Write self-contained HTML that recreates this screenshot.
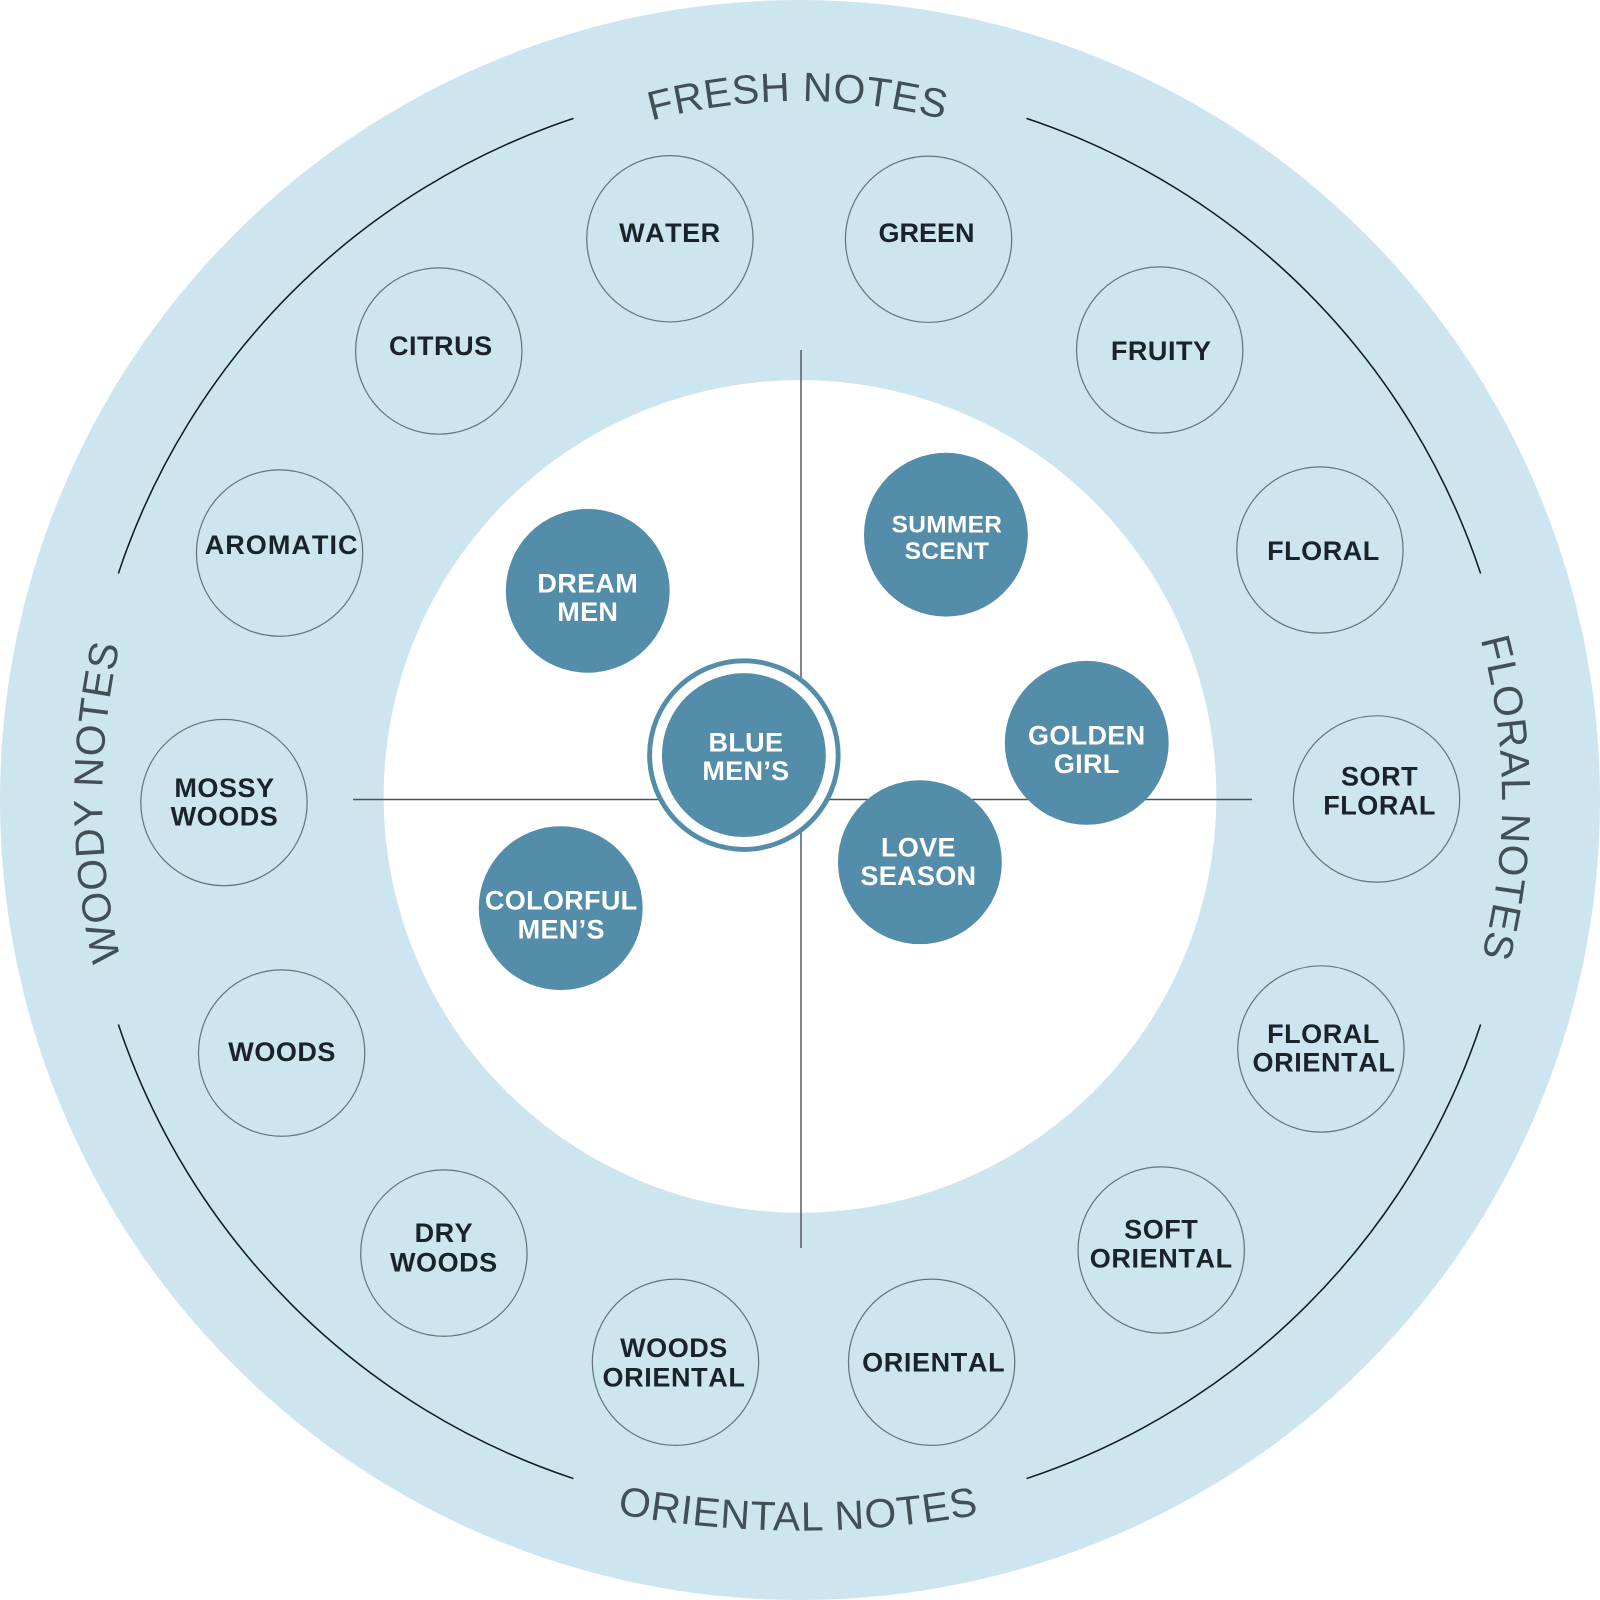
<!DOCTYPE html>
<html>
<head>
<meta charset="utf-8">
<style>
html,body{margin:0;padding:0;background:#fff}
svg{display:block}
.n{font:bold 26.5px "Liberation Sans",sans-serif;fill:#1a2329;text-anchor:middle;letter-spacing:.5px;font-kerning:none}
.w{font:bold 26.5px "Liberation Sans",sans-serif;fill:#fff;text-anchor:middle;letter-spacing:.3px}
.c{font:40px "Liberation Sans",sans-serif;fill:#424f57;text-anchor:middle}
.o{fill:none;stroke:#62757f;stroke-width:1.2}
.f{fill:#548da9}
.a{fill:none;stroke:#111a20;stroke-width:1.5}
</style>
</head>
<body>
<svg width="1600" height="1600" viewBox="0 0 1568 1568" xmlns="http://www.w3.org/2000/svg">
<defs>
<path id="pt" d="M384,267.1 A560,560 0 0 1 1184,267.1"/>
<path id="pl" d="M784,1468 A684,684 0 0 1 784,100"/>
<path id="pr" d="M1319.2,384 A600,600 0 0 1 1319.2,1184"/>
<path id="pb" d="M384,1414.6 A980,980 0 0 0 1184,1414.6"/>
</defs>
<rect width="1568" height="1568" fill="#fff"/>
<circle cx="784" cy="784" r="784" fill="#cce5ef"/>
<circle cx="784" cy="780.5" r="408" fill="#fff"/>

<path class="a" d="M116,562 A704,704 0 0 1 562,116"/>
<path class="a" d="M1006,116 A704,704 0 0 1 1451,562"/>
<path class="a" d="M1451,1004 A704,704 0 0 1 1006,1449"/>
<path class="a" d="M562,1449 A704,704 0 0 1 116,1004"/>

<line x1="346" y1="783.5" x2="1227" y2="783.5" stroke="#4a5358" stroke-width="1.4"/>
<line x1="785" y1="343" x2="785" y2="1223" stroke="#4a5358" stroke-width="1.4"/>

<text class="c" style="letter-spacing:.5px"><textPath href="#pt" startOffset="49.75%">FRESH NOTES</textPath></text>
<text class="c" style="letter-spacing:.7px"><textPath href="#pl" startOffset="49.9%">WOODY NOTES</textPath></text>
<text class="c" style="letter-spacing:1px"><textPath href="#pr" startOffset="49.77%">FLORAL NOTES</textPath></text>
<text class="c" style="letter-spacing:.9px"><textPath href="#pb" startOffset="49.8%">ORIENTAL NOTES</textPath></text>

<circle class="o" cx="656.5" cy="234" r="81.5"/>
<circle class="o" cx="910" cy="234.5" r="81.5"/>
<circle class="o" cx="1136.5" cy="343" r="81.5"/>
<circle class="o" cx="1293.5" cy="539" r="81.5"/>
<circle class="o" cx="1349" cy="783" r="81.5"/>
<circle class="o" cx="1294.5" cy="1028" r="81.5"/>
<circle class="o" cx="1138" cy="1225" r="81.5"/>
<circle class="o" cx="913" cy="1335" r="81.5"/>
<circle class="o" cx="662" cy="1335" r="81.5"/>
<circle class="o" cx="435" cy="1228" r="81.5"/>
<circle class="o" cx="276" cy="1032" r="81.5"/>
<circle class="o" cx="219.5" cy="786.5" r="81.5"/>
<circle class="o" cx="274" cy="542" r="81.5"/>
<circle class="o" cx="430" cy="344" r="81.5"/>

<g transform="translate(0,-.5)">
<text class="n" x="656.5" y="237.5">WATER</text>
<text class="n" x="908" y="237.5" style="letter-spacing:0">GREEN</text>
<text class="n" x="432" y="348.5">CITRUS</text>
<text class="n" x="1138" y="353.5">FRUITY</text>
<text class="n" x="276" y="543.5" style="letter-spacing:1px">AROMATIC</text>
<text class="n" x="1297" y="549.5">FLORAL</text>
<text class="n" x="220" y="781.5">MOSSY</text>
<text class="n" x="220" y="809.5">WOODS</text>
<text class="n" x="1352" y="770.5">SORT</text>
<text class="n" x="1352" y="798.5">FLORAL</text>
<text class="n" x="276.5" y="1040.5">WOODS</text>
<text class="n" x="1297" y="1022.5">FLORAL</text>
<text class="n" x="1297.5" y="1050.5" style="letter-spacing:.6px">ORIENTAL</text>
<text class="n" x="435" y="1217.5">DRY</text>
<text class="n" x="435" y="1246.5">WOODS</text>
<text class="n" x="1138" y="1214">SOFT</text>
<text class="n" x="1138" y="1242.5" style="letter-spacing:.6px">ORIENTAL</text>
<text class="n" x="660.5" y="1330.5">WOODS</text>
<text class="n" x="660.5" y="1359.5" style="letter-spacing:.6px">ORIENTAL</text>
<text class="n" x="915" y="1344.5" style="letter-spacing:.6px">ORIENTAL</text>
</g>

<circle class="f" cx="576" cy="579" r="80.3"/>
<circle class="f" cx="927" cy="524" r="80.3"/>
<circle class="f" cx="1065" cy="728" r="80.3"/>
<circle class="f" cx="901.5" cy="845" r="80.3"/>
<circle class="f" cx="549.5" cy="890" r="80.3"/>
<circle cx="729" cy="740" r="92.4" fill="#fff" stroke="#548da9" stroke-width="4.8"/>
<circle class="f" cx="729" cy="740" r="80.3"/>

<text class="w" x="576" y="580.5">DREAM</text>
<text class="w" x="576" y="608.5">MEN</text>
<text class="w" x="928" y="522" style="font-size:24px">SUMMER</text>
<text class="w" x="928" y="548" style="font-size:24px">SCENT</text>
<text class="w" x="1065" y="729.5">GOLDEN</text>
<text class="w" x="1065" y="757.5">GIRL</text>
<text class="w" x="900" y="839.5">LOVE</text>
<text class="w" x="900" y="867.5">SEASON</text>
<text class="w" x="550" y="891.5">COLORFUL</text>
<text class="w" x="550" y="919.5">MEN’S</text>
<text class="w" x="731" y="736.5">BLUE</text>
<text class="w" x="731" y="764.5">MEN’S</text>
</svg>
</body>
</html>
